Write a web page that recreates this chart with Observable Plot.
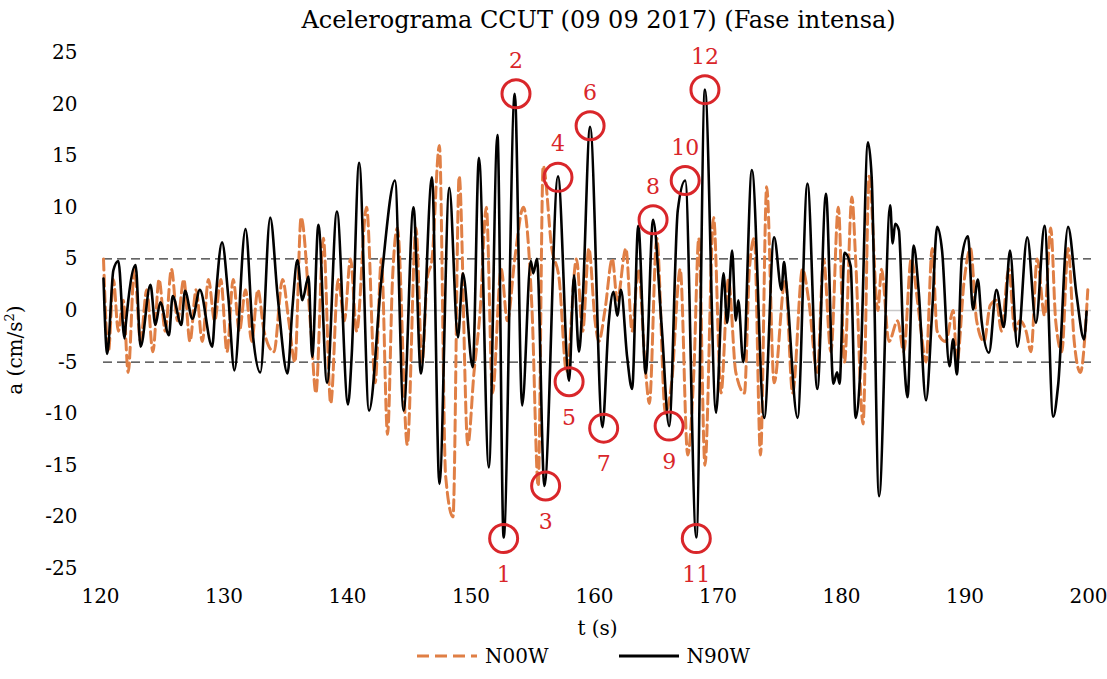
<!DOCTYPE html>
<html><head><meta charset="utf-8">
<script src="https://cdn.jsdelivr.net/npm/d3@7"></script>
<script src="https://cdn.jsdelivr.net/npm/@observablehq/plot@0.6"></script>
<style>
body{margin:0;background:#fff;font-family:"DejaVu Serif",serif;}
#title{height:40px;line-height:40px;text-align:center;font-size:24px;padding-left:90px;}
#legend{display:flex;justify-content:center;gap:70px;font-size:20px;margin-top:4px;padding-left:60px}
#legend span{display:flex;align-items:center;gap:8px}
</style></head><body>
<div id="title">Acelerograma CCUT (09 09 2017) (Fase intensa)</div>
<div id="chart"></div>
<div id="legend">
<span><svg width="60" height="10"><line x1="0" y1="5" x2="60" y2="5" stroke="#e07f45" stroke-width="3" stroke-dasharray="12,6"/></svg>N00W</span>
<span><svg width="60" height="10"><line x1="0" y1="5" x2="60" y2="5" stroke="#000" stroke-width="3"/></svg>N90W</span>
</div>
<script>
const n90wT = [120,120.3,120.8,121.2,121.7,121.8,122.6,123,123.8,124.2,124.6,125.3,125.6,126.3,126.6,127.2,127.8,128.8,129.1,129.6,130.1,130.6,131.5,132.1,132.7,133.5,134.1,134.9,135.3,135.7,136.1,136.6,136.9,137.4,138.1,138.9,139.8,140.1,140.7,141.5,142.5,143.6,144.3,145.1,145.7,146.6,147.2,148,148.7,149.1,149.9,150.4,151.2,151.9,152.4,153.3,153.9,154.6,154.8,155.1,155.7,156.8,157.7,158.1,158.5,158.8,159.4,160.4,160.9,161.3,161.6,161.9,162.4,162.8,163.3,163.9,164.5,165.2,165.8,166.5,167.1,168,168.7,169.6,170.2,170.5,170.9,171.2,171.4,171.8,172.5,173.5,174.3,174.9,175.1,175.3,176.2,177,177.8,178.5,179.1,179.4,179.6,180,180.5,180.9,181.3,181.9,182.2,182.8,183.7,183.9,184.1,184.4,184.8,185.1,185.6,186,186.6,187.1,187.5,187.9,188.5,188.8,189.1,189.5,190,190.4,190.8,191.1,191.7,192.3,192.9,193.4,194,194.8,195.5,196.2,196.9,197.3,198.1,198.8,199.4,199.6];
const n90wA = [3.1,-4.2,3.9,4.8,-2.7,-1.4,4.4,-3.5,2.5,-1.4,0.8,-2.4,1.4,-1.4,1.9,-0.8,2,-3.5,1.4,6.6,1.4,-5.8,7.9,-2.4,-6,9,1.4,-6.1,0.3,4.9,1,3.3,-4.5,8.3,-7,9.6,-9.1,-4.3,14.3,-9.7,3,12.6,-9.7,10,-6.1,12.9,-16.8,11.9,-2.6,3.6,-5.5,14.8,-15.2,17,-22,21,-9.2,4.8,3.6,5,-17,13,-6.8,3.4,-4,1,17.8,-11.3,-1.3,1.8,-0.5,2,-4.5,-7.6,8.2,-6.1,8.8,-1.6,-11.2,9.7,12.6,-22,21.4,-9.9,3.6,-1.2,5.8,-1,1,-5,13.6,-10.4,7.1,2,4.7,2.5,-10.4,12.3,-7.6,11.3,-7.1,-6,-7.1,5.6,4.3,-10.4,-5.4,16.3,12.9,-18,10.2,6.5,8.4,7.8,-4.1,-8.4,6.3,2,-8.7,-0.1,8.1,5.8,-5.4,-2.8,-6.2,5.1,7.2,0.1,3,-1,-4.1,2,-1.6,5.8,-3.5,7.1,-1.2,8.2,-10.3,-7.2,8.1,1.4,-2.8,-0.1];
const n00wT = [120,120.4,120.8,121.2,121.6,122,122.5,123,123.5,124,124.5,125,125.5,126,126.5,127,127.5,128,128.5,129,129.5,130,130.5,131,131.5,132,132.5,133,133.8,134.5,135,135.5,136,136.8,137.2,137.8,138.4,139,139.5,140,140.5,141.3,142,142.5,143,143.4,143.8,144.6,145.3,145.8,146.2,146.6,147.2,147.7,148.3,148.8,149.5,150,150.5,151,151.5,152.2,152.7,153.3,154,154.7,155.2,155.6,156.3,156.9,157.5,158.3,158.8,159.3,159.8,160.1,160.6,161.2,161.6,162.3,162.8,163.3,163.9,164.2,164.8,165.5,166,166.7,167.3,167.8,168.2,168.7,169.4,170,170.6,171.2,171.9,172.3,172.7,173.2,173.7,174.3,175.2,175.8,176.6,177.1,177.8,178.3,178.9,179.5,180,180.6,180.9,181.5,182,182.7,183,183.6,184.3,184.8,185.4,185.9,186.2,186.6,187.1,187.5,188.2,188.8,189.1,189.7,190.2,190.7,191.3,191.8,192.3,192.7,193.3,193.8,194.2,194.7,195.1,195.6,196.2,196.7,197.1,197.6,198.1,198.6,199.1,199.7];
const n00wA = [5,-4,3,-2,1,-6,4,-3,2,-4,3,-2,4,-1,3,-3,2,-3,3,-1,3,-4,3,-2,2,-3,2,-2,-4,3,-1,-5,9,-2,-8,7,-9,3,-1,5,-2,10,-7,5,-12,3,8,-13,8,-5,3,5,16,-16,-20,13,-13,-6,0,10,-8,4,-1,5,10,0,-17,14,6,3,-6,5,-2,6,-1,-3,0,5,1,6,-2,4,-6,-9,7,-10,-7,4,-14,-6,7,-15,9,-8,3,-6,-8,4,7,-14,12,-7,3,-8,4,1,-6,5,-4,10,-5,11,5,-11,13,0,4,-3,-1,-4,5,1,-2,-5,6,-2,-3,0,-5,3,6,-1,-3,0.5,1,-2,4,-2,-1,-2,-4,5,-0.5,8,-1,-4,6,-3,-6,2];
const markT = [152.4,153.4,155.8,156.8,157.7,159.4,160.5,164.5,165.8,167.1,168,168.7];
const markA = [-22.1,21,-17,12.9,-6.9,17.9,-11.4,8.8,-11.2,12.6,-22.1,21.4];
const markLabels = ["1","2","3","4","5","6","7","8","9","10","11","12"];
const yTicks = [-25,-20,-15,-10,-5,0,5,10,15,20,25];
const xTicks = [120,130,140,150,160,170,180,190,200];

const n90w = n90wT.map((t,i)=>({t,a:n90wA[i]}));
const n00w = n00wT.map((t,i)=>({t,a:n00wA[i]}));
const marks = markT.map((t,i)=>({t,a:markA[i],label:markLabels[i]}));
const red = "#d9262a";
const serif = "'DejaVu Serif',serif";
const chart = Plot.plot({
  width:1107, height:600,
  marginLeft:103, marginRight:16, marginTop:12, marginBottom:72,
  style:{fontFamily:serif, fontSize:"20px", color:"#000", background:"#fff"},
  x:{domain:[120,200]},
  y:{domain:[-25,25]},
  marks:[
    Plot.axisX({ticks:xTicks, tickSize:0, tickPadding:20, dx:-3, label:null}),
    Plot.text(["t (s)"],{frameAnchor:"bottom",dy:66,fontSize:20,fontFamily:serif}),
    Plot.axisY({ticks:yTicks, tickSize:0, tickPadding:26, tickFormat:d=>d<0?"-"+Math.abs(d):String(d), label:null}),
    Plot.ruleY([0],{stroke:"#c8c8c8",strokeWidth:1.5}),
    Plot.ruleY([5,-5],{stroke:"#333",strokeWidth:1.2,strokeDasharray:"9,5"}),
    Plot.line(n00w,{x:"t",y:"a",stroke:"#e07f45",strokeWidth:3,strokeDasharray:"11,5",curve:"monotone-x"}),
    Plot.line(n90w,{x:"t",y:"a",stroke:"#000",strokeWidth:2.6,curve:"monotone-x"}),
    Plot.dot(marks,{x:"t",y:"a",r:14,stroke:red,strokeWidth:3,fill:"none"}),
    Plot.text(marks.filter(d=>d.a>0),{x:"t",y:"a",text:"label",dy:-33,fill:red,fontSize:22,fontFamily:serif}),
    Plot.text(marks.filter(d=>d.a<0),{x:"t",y:"a",text:"label",dy:36,fill:red,fontSize:22,fontFamily:serif})
  ]
});
document.getElementById("chart").appendChild(chart);
const svg = d3.select(chart);
svg.append("text").attr("transform","translate(22,310) rotate(-90)").attr("text-anchor","middle")
  .attr("font-size",20).attr("font-family",serif)
  .html('a (cm/s<tspan dy="-8" font-size="13">2</tspan><tspan dy="8">)</tspan>');
</script>
</body></html>
